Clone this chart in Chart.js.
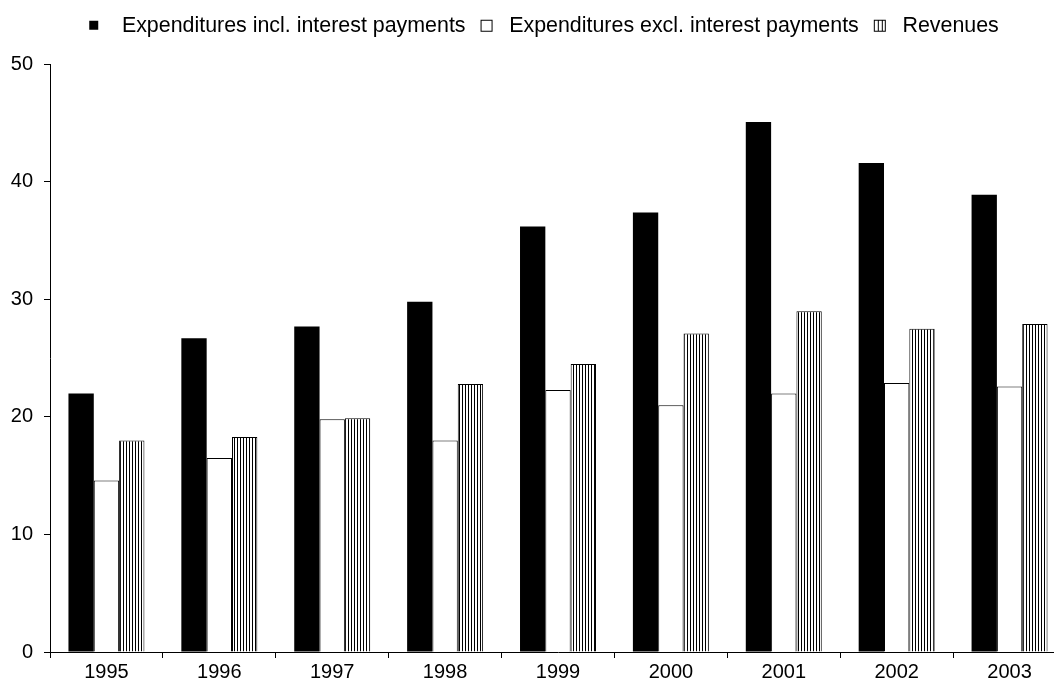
<!DOCTYPE html>
<html>
<head>
<meta charset="utf-8">
<script src="https://cdn.jsdelivr.net/npm/chart.js@4"></script>
<style>
    html, body { margin: 0; padding: 0; background: #fff; overflow: hidden; }
    #wrap { width: 1086px; height: 690px; }
</style>
</head>
<body>
<div id="wrap"><canvas id="chart" width="1086" height="690"></canvas></div>
<script>
const years = ["1995", "1996", "1997", "1998", "1999", "2000", "2001", "2002", "2003"];
const expInclInterest = [22.0, 26.7, 27.7, 29.8, 36.2, 37.4, 45.1, 41.6, 38.9];
const expExclInterest = [14.6, 16.5, 19.8, 18.0, 22.3, 21.0, 22.0, 22.9, 22.6];
const revenues = [18.0, 18.3, 19.9, 22.8, 24.5, 27.1, 29.0, 27.5, 27.9];
const yTicks = [0, 10, 20, 30, 40, 50];

const canvas = document.getElementById("chart");
const ctx = canvas.getContext("2d");

// vertical hatch used by the revenue bars
function makeStripes() {
    const tile = document.createElement("canvas");
    tile.width = 3;
    tile.height = 3;
    const t = tile.getContext("2d");
    t.fillStyle = "#fff";
    t.fillRect(0, 0, 3, 3);
    t.fillStyle = "#000";
    t.fillRect(0, 0, 1, 3);
    return ctx.createPattern(tile, "repeat");
}

// small legend icons, drawn into 24x14 canvases
function makeIcon(kind) {
    const c = document.createElement("canvas");
    c.width = 24;
    c.height = 14;
    const g = c.getContext("2d");
    g.strokeStyle = "#000";
    g.lineWidth = 1;
    if (kind === "solid") {
        g.fillStyle = "#000";
        g.fillRect(2, 2, 9, 9);
    } else {
        g.fillStyle = "#fff";
        g.fillRect(6, 1, 12, 12);
        g.strokeRect(6.5, 1.5, 11, 11);
        if (kind === "hatch") {
            g.beginPath();
            g.moveTo(10.5, 1.5); g.lineTo(10.5, 12.5);
            g.moveTo(14.5, 1.5); g.lineTo(14.5, 12.5);
            g.stroke();
        }
    }
    return c;
}

// extra room under the legend
const legendGap = {
    id: "legendGap",
    beforeLayout(chart) {
        const legend = chart.legend;
        if (!legend || legend._gapPatched) return;
        const origFit = legend.fit;
        legend.fit = function () {
            origFit.call(this);
            this.height += 18;
        };
        legend._gapPatched = true;
    },
};

const stripes = makeStripes();
const fontFamily = "'Liberation Sans', Arial, sans-serif";

Chart.defaults.color = "#000";
Chart.defaults.font.family = fontFamily;

new Chart(canvas, {
    type: "bar",
    data: {
        labels: years,
        datasets: [
            {
                label: "Expenditures incl. interest payments",
                data: expInclInterest,
                backgroundColor: "#000",
                borderColor: "#000",
                borderWidth: 0,
                pointStyle: makeIcon("solid"),
            },
            {
                label: "Expenditures excl. interest payments",
                data: expExclInterest,
                backgroundColor: "#fff",
                borderColor: "#000",
                borderWidth: 1,
                pointStyle: makeIcon("open"),
            },
            {
                label: "Revenues",
                data: revenues,
                backgroundColor: stripes,
                borderColor: "#000",
                borderWidth: 1,
                pointStyle: makeIcon("hatch"),
            },
        ],
    },
    plugins: [legendGap],
    options: {
        responsive: false,
        animation: false,
        layout: { padding: { top: 6, bottom: 0 } },
        datasets: { bar: { categoryPercentage: 0.673, barPercentage: 1.0 } },
        plugins: {
            tooltip: { enabled: false },
            legend: {
                position: "top",
                labels: {
                    usePointStyle: true,
                    pointStyleWidth: 24,
                    padding: 9,
                    color: "#000",
                    font: { size: 21.4, family: fontFamily },
                },
            },
        },
        scales: {
            x: {
                grid: { display: true, drawOnChartArea: false, drawTicks: true, tickLength: 6, color: "#000", offset: true },
                border: { display: true, color: "#000", width: 1 },
                ticks: { font: { size: 20 }, color: "#000", padding: 2, maxRotation: 0 },
                afterFit: (s) => { s.height = 38; },
            },
            y: {
                min: 0,
                max: 50,
                grid: { display: true, drawOnChartArea: false, drawTicks: true, tickLength: 6, color: "#000" },
                border: { display: true, color: "#000", width: 1 },
                ticks: { font: { size: 20 }, color: "#000", padding: 11 },
                afterBuildTicks: (s) => { s.ticks = yTicks.map((v) => ({ value: v })); },
                afterFit: (s) => { s.width = 50; },
            },
            yPad: {
                type: "linear",
                position: "right",
                display: true,
                grid: { display: false },
                border: { display: false },
                ticks: { display: false },
                afterFit: (s) => { s.width = 20; },
            },
        },
    },
});
</script>
</body>
</html>
